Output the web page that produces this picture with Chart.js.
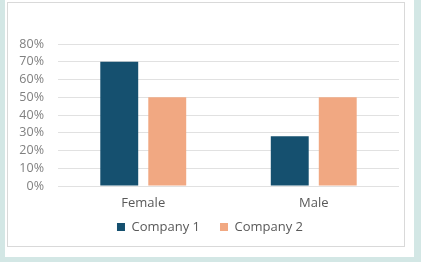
<!DOCTYPE html>
<html>
<head>
<meta charset="utf-8">
<script src="https://cdn.jsdelivr.net/npm/chart.js@4.4.1/dist/chart.umd.min.js"></script>
<style>
  html, body { margin: 0; padding: 0; }
  body { width: 421px; height: 262px; background: #d3e7e5; position: relative; overflow: hidden; }
  #sheet { position: absolute; left: 5px; top: 0; width: 409px; height: 257px; background: #fff; }
  #panel { position: absolute; left: 7px; top: 2px; width: 396px; height: 243px; border: 1px solid #d9d9d9; background: #fff; }
  #wrap { position: absolute; left: 7px; top: 2px; width: 398px; height: 245px; }
</style>
</head>
<body>
<div id="sheet"></div>
<div id="panel"></div>
<div id="wrap"><canvas id="chart"></canvas></div>
<script>
// categories and series values (fractions, shown as percent)
const categories = ['Female', 'Male'];
const company1 = [0.70, 0.28];
const company2 = [0.50, 0.50];
const seriesNames = ['Company 1', 'Company 2'];
const yMax = 0.8;
const yStep = 0.1;

const fontFamily = "'Open Sans', 'Noto Sans', sans-serif";

// legend keeps a wide gap between items, but sits closer to the axis labels
const legendShift = {
    id: 'legendShift',
    afterLayout(chart) {
        const lg = chart.legend;
        lg.top -= 10.5;
        lg.left += 7;
        lg.right += 7;
    }
};

const ctx = document.getElementById('chart').getContext('2d');
const chart = new Chart(ctx, {
    type: 'bar',
    data: {
        labels: categories,
        datasets: [
            {
                label: seriesNames[0],
                data: company1,
                backgroundColor: '#15506f',
                borderWidth: 0,
                barPercentage: 0.79,
                categoryPercentage: 0.563
            },
            {
                label: seriesNames[1],
                data: company2,
                backgroundColor: '#f1a882',
                borderWidth: 0,
                barPercentage: 0.79,
                categoryPercentage: 0.563
            }
        ]
    },
    options: {
        responsive: true,
        maintainAspectRatio: false,
        animation: false,
        layout: { padding: { top: 42, right: 6, bottom: 5, left: 0 } },
        scales: {
            x: {
                afterFit: (scale) => { scale.height = 25; },
                grid: { display: false, drawTicks: false },
                border: { display: false },
                ticks: {
                    color: '#595959',
                    padding: 9,
                    font: { family: fontFamily, size: 13 }
                }
            },
            y: {
                min: 0,
                max: yMax,
                afterFit: (scale) => { scale.width = 51; },
                grid: { color: '#e1e1e1', drawTicks: false },
                border: { display: false },
                ticks: {
                    stepSize: yStep,
                    autoSkip: false,
                    color: '#808080',
                    padding: 14,
                    font: { family: fontFamily, size: 12.5 },
                    callback: (v) => Math.round(v * 100) + '%'
                }
            }
        },
        plugins: {
            legend: {
                position: 'bottom',
                maxHeight: 31,
                labels: {
                    boxWidth: 8,
                    boxHeight: 8,
                    padding: 20,
                    color: '#595959',
                    font: { family: fontFamily, size: 13 }
                }
            },
            tooltip: { enabled: false }
        }
    },
    plugins: [legendShift]
});
</script>
</body>
</html>
